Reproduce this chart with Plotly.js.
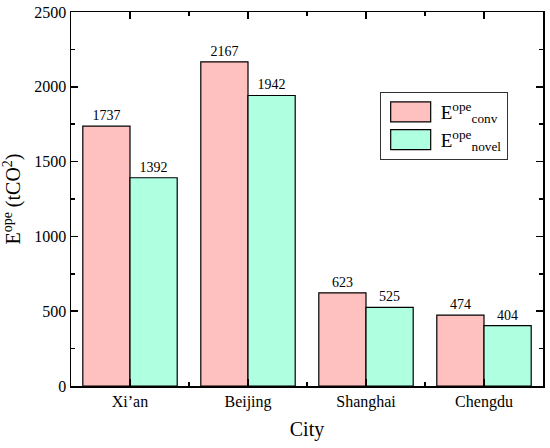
<!DOCTYPE html>
<html><head><meta charset="utf-8">
<script src="https://cdn.plot.ly/plotly-3.0.1.min.js"></script>
<style>body{margin:0;background:#fff}#chart{width:550px;height:448px}</style>
</head><body><div id="chart"></div>
<script>
const categories = ["Xi\u2019an", "Beijing", "Shanghai", "Chengdu"];
const convValues = [1737, 2167, 623, 474];
const novelValues = [1392, 1942, 525, 404];
const seriesNames = ["E<sup>ope</sup><sub>conv</sub>", "E<sup>ope</sup><sub>novel</sub>"];
const yTickVals = [0, 500, 1000, 1500, 2000, 2500];

const xIdx = categories.map((c, i) => i);
const fontFam = "'Liberation Serif', 'Times New Roman', serif";

function barTrace(vals, name, color) {
  return {
    type: "bar", x: xIdx, y: vals, name: name,
    marker: {color: color, line: {color: "#000", width: 1.2}},
    text: vals.map(String), textposition: "outside", cliponaxis: false,
    textfont: {family: fontFam, size: 14, color: "#000"},
    hoverinfo: "none"
  };
}

const data = [
  barTrace(convValues, seriesNames[0], "#FFC0C0"),
  barTrace(novelValues, seriesNames[1], "#AFFFE1")
];

const layout = {
  width: 550, height: 448,
  margin: {l: 71, r: 6.5, t: 12, b: 61.5},
  paper_bgcolor: "#fff", plot_bgcolor: "#fff",
  barmode: "group", bargap: 0.2, bargroupgap: 0,
  font: {family: fontFam, color: "#000"},
  showlegend: true,
  legend: {
    x: 0.654, y: 0.786, xanchor: "left", yanchor: "top",
    bordercolor: "#333", borderwidth: 1, bgcolor: "#fff",
    font: {family: fontFam, size: 19, color: "#000"},
    itemwidth: 50, tracegroupgap: 4
  },
  xaxis: {
    range: [-0.5, categories.length - 0.5],
    tickvals: xIdx, ticktext: categories,
    tickfont: {family: fontFam, size: 16, color: "#000"},
    ticks: "inside", ticklen: 7, tickwidth: 1.5, tickcolor: "#000",
    minor: {dtick: 0.5, tick0: -0.5, ticks: "inside", ticklen: 4, tickwidth: 1.5, tickcolor: "#000"},
    showline: true, linecolor: "#000", linewidth: 1.5, mirror: "allticks",
    showgrid: false, zeroline: false,
    title: {text: "City", font: {family: fontFam, size: 20, color: "#000"}, standoff: 12}
  },
  yaxis: {
    range: [0, 2500], tickvals: yTickVals,
    tickfont: {family: fontFam, size: 16, color: "#000"},
    ticks: "inside", ticklen: 7, tickwidth: 1.5, tickcolor: "#000",
    minor: {dtick: 250, ticks: "inside", ticklen: 4, tickwidth: 1.5, tickcolor: "#000"},
    showline: true, linecolor: "#000", linewidth: 1.5, mirror: "allticks",
    showgrid: false, zeroline: false,
    title: {text: "E<sup>ope</sup> (tCO<sup>2</sup>)", font: {family: fontFam, size: 20, color: "#000"}, standoff: 8}
  }
};

Plotly.newPlot("chart", data, layout, {staticPlot: true}).then(function(gd){
  gd.querySelectorAll(".legend .legendpoints path").forEach(function(p){
    p.setAttribute("d", "M-20,-10H20V10H-20Z");
  });
});
</script>
</body></html>
